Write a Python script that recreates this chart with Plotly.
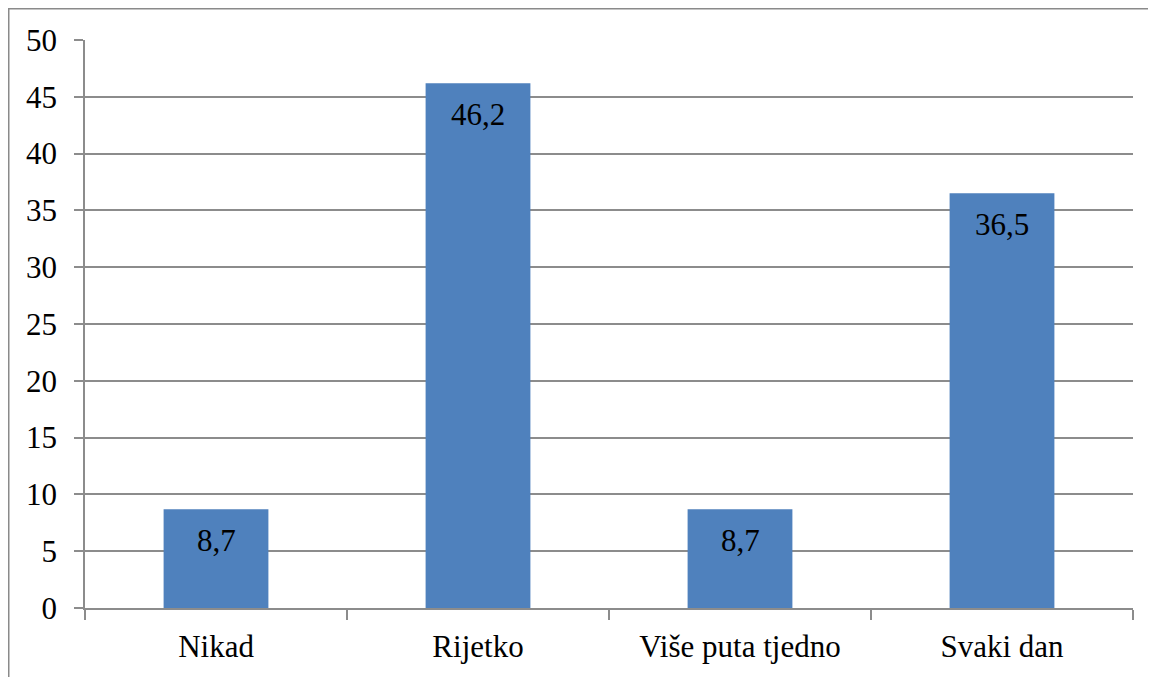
import plotly.graph_objects as go

categories = ["Nikad", "Rijetko", "Više puta tjedno", "Svaki dan"]
values = [8.7, 46.2, 8.7, 36.5]
y_ticks = [0, 5, 10, 15, 20, 25, 30, 35, 40, 45, 50]

labels = [f"{v:.1f}".replace(".", ",") for v in values]

FONT = "Liberation Serif"
GRID = "#8c8c8c"
FS = 31

fig = go.Figure()
fig.add_trace(go.Bar(
    x=categories, y=values,
    marker=dict(color="#4F81BD", line=dict(width=0)),
    width=0.4,
    hoverinfo="skip",
))

for c, v, t in zip(categories, values, labels):
    fig.add_annotation(x=c, y=v, text=t, showarrow=False, yanchor="middle",
                       yshift=-31, font=dict(family=FONT, size=FS, color="black"))

# outer chart border (figure edge; right and bottom clipped by the window)
fig.add_shape(type="rect", xref="paper", yref="paper",
              x0=(0 - 77) / 1048, x1=(1170 - 77) / 1048,
              y0=(600 - 690) / 568, y1=(600 - 0) / 568,
              line=dict(color="#8a8a8a", width=3), fillcolor="rgba(0,0,0,0)",
              layer="below")

fig.update_layout(
    width=1156, height=677,
    margin=dict(l=77, r=31, t=32, b=77),
    paper_bgcolor="white", plot_bgcolor="white",
    showlegend=False,
    font=dict(family=FONT, size=FS, color="black"),
    bargap=0.6,
)
fig.update_xaxes(
    showgrid=False, showline=True, linecolor=GRID, linewidth=1.5,
    ticks="outside", tickson="boundaries", ticklen=10, tickcolor=GRID, tickwidth=1.5,
    ticklabelstandoff=10,
    tickfont=dict(family=FONT, size=FS, color="black"),
)
fig.update_yaxes(
    range=[0, 50], tickvals=y_ticks, ticktext=[str(t) for t in y_ticks],
    showgrid=True, gridcolor=GRID, gridwidth=1.5,
    showline=True, linecolor=GRID, linewidth=1.5,
    ticks="outside", ticklen=9, tickcolor=GRID, tickwidth=1.5,
    ticklabelstandoff=11, zeroline=False,
    tickfont=dict(family=FONT, size=FS, color="black"),
)

fig.write_html("out.html")
